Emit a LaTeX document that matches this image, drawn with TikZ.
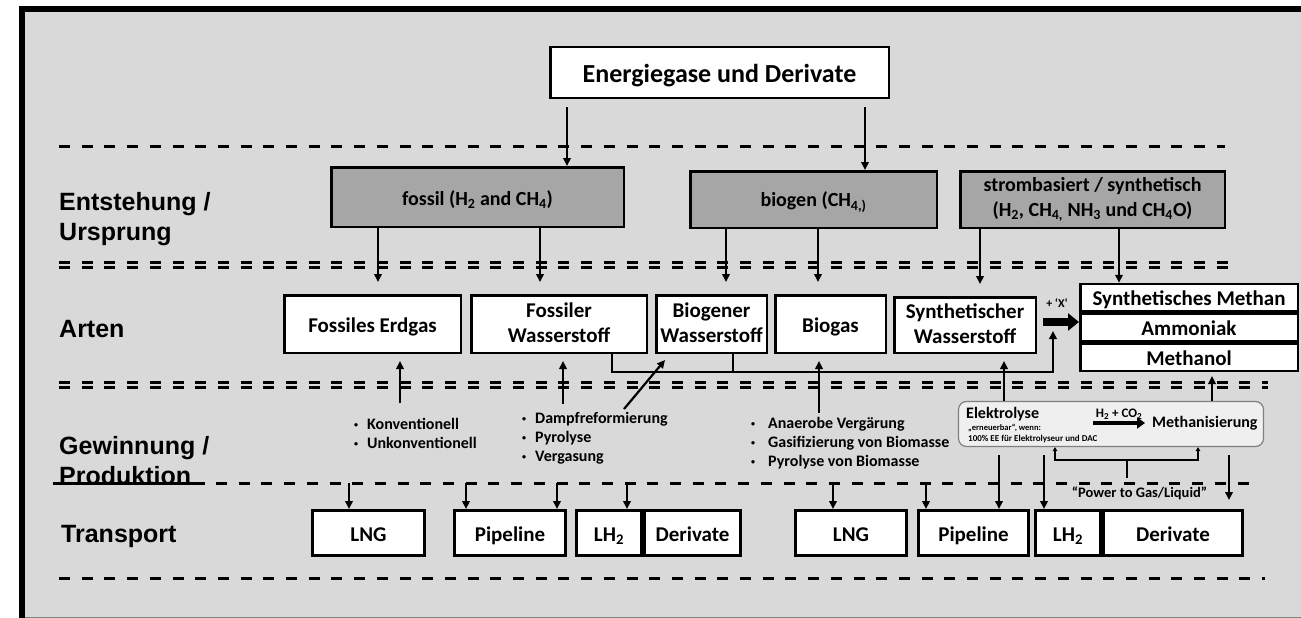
\documentclass[tikz,border=0pt]{standalone}
\usepackage{fontspec}
\setmainfont{Carlito}
\newfontfamily\labelfont{Liberation Sans}
\usetikzlibrary{arrows.meta}

\definecolor{bggray}{HTML}{D9D9D9}
\definecolor{boxgray}{HTML}{A6A6A6}
\definecolor{elekfill}{HTML}{EFEFEF}
\definecolor{elekline}{HTML}{808080}

\newcommand{\bpt}[1][13pt]{\makebox[#1][l]{\raisebox{1.8pt}{\fontsize{8}{8}\selectfont\textbullet}}}
\newcommand{\bstrut}{\rule[-0.12\baselineskip]{0pt}{0.92\baselineskip}}

\tikzset{
  box/.style={draw, line width=2.5pt, fill=white, align=center, inner sep=1pt,
    font=\bfseries\fontsize{21}{25}\selectfont,
    execute at begin node=\bstrut, execute at end node=\bstrut},
  origin/.style={box, fill=boxgray, font=\bfseries\fontsize{20}{25}\selectfont},
  art/.style={box, minimum height=57.5pt},
  tbox/.style={box, line width=3pt, minimum height=45pt},
  rowlabel/.style={anchor=west, align=left, inner sep=0pt,
    font=\labelfont\bfseries\fontsize{25}{30}\selectfont},
  list/.style={anchor=west, align=left, inner sep=0pt,
    font=\bfseries\fontsize{16}{19}\selectfont},
  dline/.style={line width=3pt, dash pattern=on 11pt off 11.7pt},
  ddline/.style={line width=2.8pt, double=bggray, double distance=2pt,
    dash pattern=on 11pt off 11.7pt},
  arr/.style={line width=2.2pt, -{Triangle[length=8pt,width=7.5pt]}},
  fat/.style={line width=8pt, -{Triangle[length=11pt,width=17pt]}},
  sarr/.style={line width=1.6pt, -{Triangle[length=4pt,width=4.5pt]}},
}

\begin{document}
\begin{tikzpicture}[x=1pt, y=-1pt]

\useasboundingbox (0,0) rectangle (1301,618);

% Background and frame
\fill[bggray] (19,6) rectangle (1301,618);
\draw[line width=6pt] (22,618) -- (22,9) -- (1301,9);
\draw[gray, line width=1pt] (25,617) -- (1301,617);

% Separators
\draw[dline] (59,146) -- (1225,146);
\draw[ddline] (59,265) -- (1230,265);
\draw[ddline] (59,385) -- (1268,385);
\draw[line width=3pt] (53,483) -- (205,483);
\draw[dline] (216,483) -- (1258,483);
\draw[dline] (59,578) -- (1265,578);

% Row labels
\node[rowlabel] (lEnt) at (59,219.5) {Entstehung /\\Ursprung};
\node[rowlabel, anchor=base west] (lArten) at (59,337) {Arten};
\node[rowlabel] (lGew) at (59,461) {Gewinnung /\\Produktion};
\node[rowlabel, anchor=base west] (lTrans) at (61,542) {Transport};

% Top
\node[box, minimum width=338.5pt, minimum height=50.5pt,
  font=\bfseries\fontsize{26}{30}\selectfont] (gase) at (719.5,72.5) {Energiegase und Derivate};

% Entstehung / Ursprung
\node[origin, minimum width=292.5pt, minimum height=59.5pt] (fossil) at (477.5,197)
  {fossil (H\textsubscript{2} and CH\textsubscript{4})};
\node[origin, minimum width=246.5pt, minimum height=56.5pt] (biogen) at (813.5,199.5)
  {biogen (CH\textsubscript{4,)}};
\node[origin, minimum width=264.5pt, minimum height=56.5pt] (strom) at (1092.5,199.5)
  {strombasiert / synthetisch\\(H\textsubscript{2}, CH\textsubscript{4,} NH\textsubscript{3} und CH\textsubscript{4}O)};

% Arten
\node[art, minimum width=176.5pt] (erdgas) at (372.5,324) {Fossiles Erdgas};
\node[art, minimum width=175.5pt] (fosH) at (559,324) {Fossiler\\Wasserstoff};
\node[art, minimum width=110.5pt] (bioH) at (711.5,324) {Biogener\\Wasserstoff};
\node[art, minimum width=110.5pt] (biogas) at (830.5,324) {Biogas};
\node[art, minimum width=141.5pt, minimum height=55.5pt] (synH) at (965,325) {Synthetischer\\Wasserstoff};
\node[box, minimum width=217.5pt, minimum height=27pt] (stackA) at (1189,297.5) {Synthetisches Methan};
\node[box, minimum width=217.5pt, minimum height=27.5pt] (stackB) at (1189,327) {Ammoniak};
\node[box, minimum width=217.5pt, minimum height=27.5pt] (stackC) at (1189,357) {Methanol};
\node[font=\bfseries\fontsize{12}{14}\selectfont, inner sep=0pt] (plusx) at (1057,303) {+ `X`};

% Gewinnung / Produktion
\node[list] (konv) at (354,433.5) {\bpt Konventionell\\\bpt Unkonventionell};
\node[list] (dampf) at (522,438) {\bpt Dampfreformierung\\\bpt Pyrolyse\\\bpt Vergasung};
\node[list] (anaer) at (751,443) {\bpt[17pt]Anaerobe Vergärung\\\bpt[17pt]Gasifizierung von Biomasse\\\bpt[17pt]Pyrolyse von Biomasse};

\node[draw=elekline, fill=elekfill, line width=1.2pt, rounded corners=8pt,
  minimum width=305pt, minimum height=45pt] (elek) at (1111,424) {};
\node[anchor=west, inner sep=0pt, font=\bfseries\fontsize{16}{18}\selectfont] (elekT) at (966,414) {Elektrolyse};
\node[anchor=west, inner sep=0pt, font=\bfseries\fontsize{8.5}{10}\selectfont] (elekN) at (968,428.5) {„erneuerbar“, wenn:};
\node[anchor=west, inner sep=0pt, font=\bfseries\fontsize{9}{10}\selectfont] (elekM) at (968,439.5) {100\% EE für Elektrolyseur und DAC};
\node[anchor=west, inner sep=0pt, font=\bfseries\fontsize{16}{18}\selectfont] (methani) at (1152,423) {Methanisierung};
\draw[line width=4pt, -{Triangle[length=8pt,width=11pt]}] (1093,423) -- ([xshift=-7pt]methani.west)
  node[midway, above=2pt, inner sep=0pt, font=\bfseries\fontsize{13}{14}\selectfont] (h2co2) {H\textsubscript{2} + CO\textsubscript{2}};
\node[font=\bfseries\fontsize{14.5}{16}\selectfont, inner sep=0pt] (ptg) at (1139.5,493) {“Power to Gas/Liquid”};

% Transport
\node[tbox, minimum width=112pt] (lngA) at (368.5,533) {LNG};
\node[tbox, minimum width=111pt] (pipeA) at (510,533) {Pipeline};
\node[tbox, minimum width=65pt] (lhA) at (609,533) {LH\textsubscript{2}};
\node[tbox, minimum width=96pt] (derA) at (692.5,533) {Derivate};
\node[tbox, minimum width=111pt] (lngB) at (851,533) {LNG};
\node[tbox, minimum width=110pt] (pipeB) at (973.5,533) {Pipeline};
\node[tbox, minimum width=65pt] (lhB) at (1068,533) {LH\textsubscript{2}};
\node[tbox, minimum width=139pt] (derB) at (1173,533) {Derivate};

% Energiegase -> Entstehung
\draw[arr, shorten <=8pt] (567,0 |- gase.south) -- (567,0 |- fossil.north);
\draw[arr, shorten <=8pt] (865,0 |- gase.south) -- (865,0 |- biogen.north);

% Entstehung -> Arten
\draw[arr, shorten >=12pt] (378,0 |- fossil.south) -- (378,0 |- erdgas.north);
\draw[arr, shorten >=12pt] (540,0 |- fossil.south) -- (540,0 |- fosH.north);
\draw[arr, shorten >=12pt] (726,0 |- biogen.south) -- (726,0 |- bioH.north);
\draw[arr, shorten >=12pt] (818,0 |- biogen.south) -- (818,0 |- biogas.north);
\draw[arr, shorten >=12pt] (980,0 |- strom.south) -- (980,0 |- synH.north);
\draw[arr] (1119,0 |- strom.south) -- (1119,0 |- stackA.north);

% Gewinnung -> Arten
\draw[arr, shorten >=7pt] (400,403) -- (400,0 |- erdgas.south);
\draw[arr, shorten >=7pt] (563,404) -- (563,0 |- fosH.south);
\draw[arr] (624,409) -- ([xshift=10pt, yshift=-6pt]bioH.south west);
\draw[arr, shorten >=7pt] (819,413) -- (819,0 |- biogas.south);
\draw[arr, shorten >=7pt] (1004,0 |- elek.north) -- (1004,0 |- synH.south);
\draw[arr, shorten >=4pt] (1212,0 |- elek.north) -- (1212,0 |- stackC.south);

% Wasserstoff + X
\draw[arr] (612,0 |- fosH.south) -- (612,372) -- (1053,372) -- (1053,331);
\draw[line width=2.2pt] (733,0 |- bioH.south) -- (733,372);
\draw[fat, shorten <=6pt] (synH.east |- 0,322) -- (stackB.west |- 0,322);

% Power to Gas/Liquid
\draw[sarr] (1127,460) -| (1055,0 |- elek.south);
\draw[sarr] (1127,460) -| (1198,0 |- elek.south);
\draw[line width=1.6pt] (1127,460) -- (1127,478);

% Produktion -> Transport
\draw[arr] (349,483) -- (349,0 |- lngA.north);
\draw[arr] (466,483) -- (466,0 |- pipeA.north);
\draw[arr] (557,483) -- (557,0 |- pipeA.north);
\draw[arr] (627,483) -- (627,0 |- lhA.north);
\draw[arr] (833,483) -- (833,0 |- lngB.north);
\draw[arr] (926,483) -- (926,0 |- pipeB.north);
\draw[arr, shorten <=8pt] (999,0 |- elek.south) -- (999,0 |- pipeB.north);
\draw[arr, shorten <=8pt] (1044,0 |- elek.south) -- (1044,0 |- lhB.north);
\draw[arr, shorten <=8pt, shorten >=9pt] (1229,0 |- elek.south) -- (1229,0 |- derB.north);

\end{tikzpicture}
\end{document}
